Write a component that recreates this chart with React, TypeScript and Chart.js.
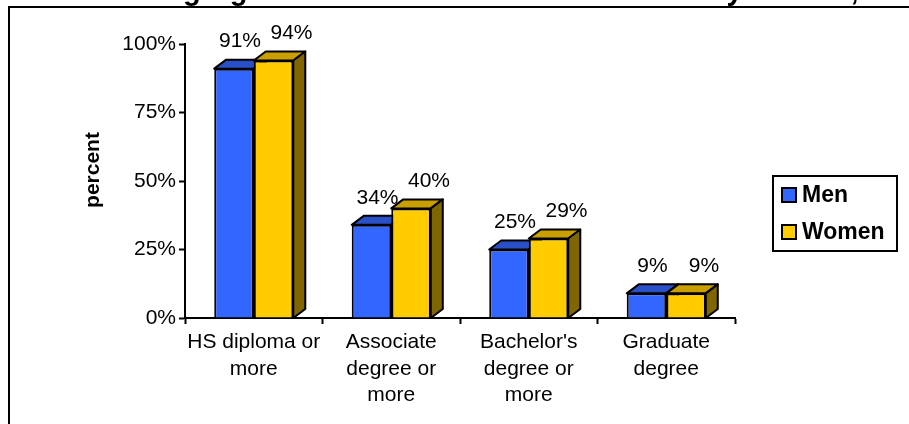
import React, { useEffect, useRef } from "react";
import { Chart, registerables } from "chart.js";

Chart.register(...registerables);

const categories: string[][] = [
  ["HS diploma or", "more"],
  ["Associate", "degree or", "more"],
  ["Bachelor's", "degree or", "more"],
  ["Graduate", "degree"],
];
const seriesNames = ["Men", "Women"];
const menValues = [91, 34, 25, 9];
const womenValues = [94, 40, 29, 9];
const yTickValues = [0, 25, 50, 75, 100];
const titleText = "Figure 1: Working Age Adults' Educational Attainment by Gender, 2000";
const yAxisTitle = "percent";

const FONT = "'Liberation Sans', Arial, sans-serif";
const frontColors = ["#3366FF", "#FFCC00"];
const topColors = ["#2A50C8", "#C9A000"];
const sideColors = ["#1A3380", "#806600"];
const labelOffsets = [6, 18];
const DX = 12;
const DY = 9;

const threeDPlugin = {
  id: "threeD",
  beforeDatasetsDraw(chart: any) {
    const ctx = chart.ctx;
    const base = chart.scales.y.getPixelForValue(0);
    chart.data.datasets.forEach((ds: any, di: number) => {
      const meta = chart.getDatasetMeta(di);
      meta.data.forEach((bar: any) => {
        const { x, y, width } = bar.getProps(["x", "y", "width"], true);
        const x0 = x - width / 2;
        const x1 = x + width / 2;
        ctx.save();
        ctx.lineWidth = 2;
        ctx.strokeStyle = "#000";
        ctx.lineJoin = "round";
        ctx.beginPath();
        ctx.moveTo(x0, y);
        ctx.lineTo(x0 + DX, y - DY);
        ctx.lineTo(x1 + DX, y - DY);
        ctx.lineTo(x1, y);
        ctx.closePath();
        ctx.fillStyle = topColors[di];
        ctx.fill();
        ctx.stroke();
        ctx.beginPath();
        ctx.moveTo(x1, y);
        ctx.lineTo(x1 + DX, y - DY);
        ctx.lineTo(x1 + DX, base - DY);
        ctx.lineTo(x1, base);
        ctx.closePath();
        ctx.fillStyle = sideColors[di];
        ctx.fill();
        ctx.stroke();
        ctx.restore();
      });
    });
  },
  afterDatasetsDraw(chart: any) {
    const ctx = chart.ctx;
    ctx.save();
    ctx.font = `21px ${FONT}`;
    ctx.fillStyle = "#000";
    ctx.textAlign = "center";
    ctx.textBaseline = "middle";
    chart.data.datasets.forEach((ds: any, di: number) => {
      const meta = chart.getDatasetMeta(di);
      meta.data.forEach((bar: any, i: number) => {
        const { x, y } = bar.getProps(["x", "y"], true);
        ctx.fillText(`${ds.data[i]}%`, x + labelOffsets[di], y - 27);
      });
    });
    ctx.restore();
  },
  afterDraw(chart: any) {
    const ctx = chart.ctx;
    ctx.save();
    ctx.strokeStyle = "#000";
    ctx.lineWidth = 2;
    ctx.beginPath();
    ctx.moveTo(9, 430);
    ctx.lineTo(9, 7);
    ctx.lineTo(915, 7);
    ctx.stroke();
    ctx.font = `bold 29px ${FONT}`;
    ctx.fillStyle = "#000";
    ctx.textAlign = "left";
    ctx.textBaseline = "alphabetic";
    const idx = titleText.indexOf("Working") + 6;
    const startX = 183 - ctx.measureText(titleText.slice(0, idx)).width;
    ctx.fillText(titleText, startX, 0);
    ctx.font = `bold 21px ${FONT}`;
    ctx.textAlign = "center";
    ctx.textBaseline = "middle";
    ctx.translate(93, 170);
    ctx.rotate(-Math.PI / 2);
    ctx.fillText(yAxisTitle, 0, 0);
    ctx.restore();
    ctx.save();
    ctx.strokeStyle = "#000";
    ctx.lineWidth = 2;
    ctx.strokeRect(773, 176, 124, 75);
    const rows = [195, 232];
    ctx.font = `bold 23px ${FONT}`;
    ctx.textAlign = "left";
    ctx.textBaseline = "middle";
    chart.data.datasets.forEach((ds: any, di: number) => {
      const cy = rows[di];
      ctx.fillStyle = frontColors[di];
      ctx.fillRect(782, cy - 7, 14, 14);
      ctx.strokeRect(782, cy - 7, 14, 14);
      ctx.fillStyle = "#000";
      ctx.fillText(ds.label, 802, cy + 1);
    });
    ctx.restore();
  },
};

export default function App() {
  const ref = useRef<HTMLCanvasElement | null>(null);
  useEffect(() => {
    if (!ref.current) return;
    const chart = new Chart(ref.current, {
      type: "bar",
      data: {
        labels: categories,
        datasets: [
          {
            label: seriesNames[0],
            data: menValues,
            backgroundColor: frontColors[0],
            borderColor: "#000",
            borderWidth: 2,
            categoryPercentage: 0.575,
            barPercentage: 1,
          },
          {
            label: seriesNames[1],
            data: womenValues,
            backgroundColor: frontColors[1],
            borderColor: "#000",
            borderWidth: 2,
            categoryPercentage: 0.575,
            barPercentage: 1,
          },
        ],
      },
      options: {
        responsive: false,
        animation: false,
        layout: { padding: { left: 0, top: 44, right: 174, bottom: 0 } },
        plugins: {
          legend: { display: false },
          title: { display: false },
          tooltip: { enabled: false },
        },
        scales: {
          x: {
            grid: {
              drawOnChartArea: false,
              drawTicks: true,
              tickLength: 6,
              tickColor: "#000",
              tickWidth: 2,
            },
            border: { color: "#000", width: 2 },
            ticks: {
              color: "#000",
              font: { family: FONT, size: 21, lineHeight: 1.27 },
              padding: 5,
              maxRotation: 0,
              autoSkip: false,
            },
            afterFit: (scale: any) => {
              scale.height = 106;
            },
          },
          y: {
            min: 0,
            max: 100,
            afterBuildTicks: (scale: any) => {
              scale.ticks = yTickValues.map((v) => ({ value: v }));
            },
            grid: {
              drawOnChartArea: false,
              drawTicks: true,
              tickLength: 6,
              tickColor: "#000",
              tickWidth: 2,
            },
            border: { color: "#000", width: 2 },
            ticks: {
              color: "#000",
              font: { family: FONT, size: 21 },
              padding: 3,
              callback: (v: any) => `${v}%`,
            },
            afterFit: (scale: any) => {
              scale.width = 185;
            },
          },
        },
      },
      plugins: [threeDPlugin],
    });
    return () => chart.destroy();
  }, []);
  return (
    <div style={{ position: "fixed", left: 0, top: 0, width: 909, height: 424, background: "#fff" }}>
      <canvas ref={ref} width={909} height={424} style={{ display: "block" }} />
    </div>
  );
}
